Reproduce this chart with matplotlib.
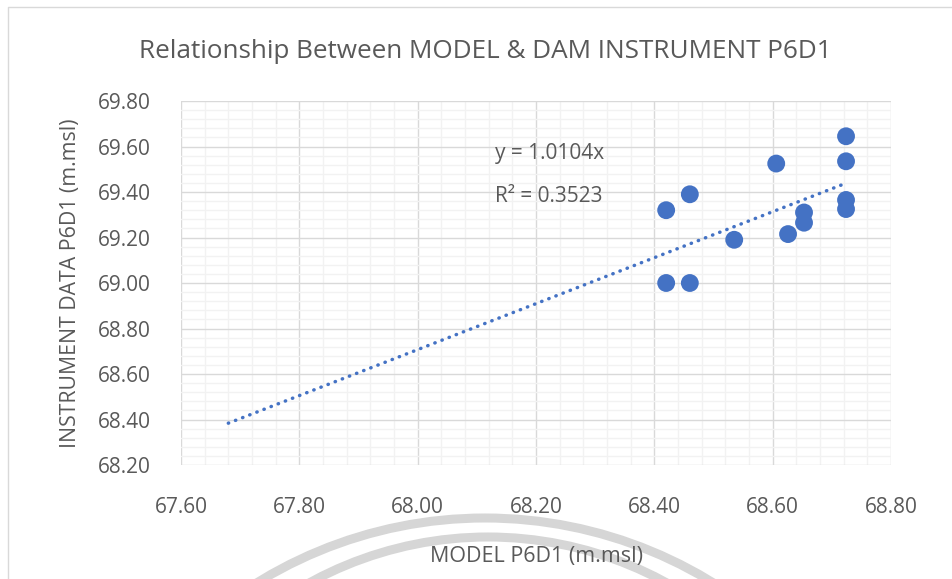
import numpy as np
import matplotlib
matplotlib.use("Agg")
import matplotlib.pyplot as plt
from matplotlib.patches import Arc
from matplotlib.ticker import MultipleLocator, FormatStrFormatter

# data
model_x = [68.42, 68.42, 68.46, 68.46, 68.535, 68.606, 68.626, 68.653, 68.653, 68.724, 68.724, 68.724, 68.724]
instrument_y = [69.32, 69.00, 69.39, 69.00, 69.19, 69.525, 69.215, 69.31, 69.265, 69.645, 69.535, 69.365, 69.325]
slope = 1.0104
r_squared = 0.3523
trend_start = 67.68

x_ticks = [67.60, 67.80, 68.00, 68.20, 68.40, 68.60, 68.80]
y_ticks = [68.20, 68.40, 68.60, 68.80, 69.00, 69.20, 69.40, 69.60, 69.80]

plt.rcParams['font.family'] = ['Open Sans', 'DejaVu Sans']
text_color = '#595959'
blue = '#4472C4'

W, H = 952, 579
fig = plt.figure(figsize=(W / 100, H / 100), dpi=100)

# background layer in pixel coords: chart border + watermark arcs
bg = fig.add_axes([0, 0, 1, 1], zorder=0)
bg.set_xlim(0, W)
bg.set_ylim(H, 0)
bg.axis('off')
bg.plot([8, 8, W + 5], [H + 5, 7, 7], color='#d9d9d9', lw=1.0)
for cx, cy, r in [(485, 952, 434), (488, 908, 371)]:
    bg.add_patch(Arc((cx, cy), 2 * r, 2 * r, theta1=180, theta2=360,
                     color='#d6d6d6', lw=6.5))

# main plot area
ax = fig.add_axes([181 / W, 114 / H, 710 / W, 364 / H], zorder=1)
ax.set_facecolor('none')
ax.set_xlim(x_ticks[0], x_ticks[-1])
ax.set_ylim(y_ticks[0], y_ticks[-1])
ax.set_xticks(x_ticks)
ax.set_yticks(y_ticks)
ax.xaxis.set_minor_locator(MultipleLocator(0.04))
ax.yaxis.set_minor_locator(MultipleLocator(0.04))
ax.xaxis.set_major_formatter(FormatStrFormatter('%.2f'))
ax.yaxis.set_major_formatter(FormatStrFormatter('%.2f'))
ax.grid(which='minor', color='#f2f2f2', lw=1.0, zorder=0)
ax.grid(which='major', color='#d9d9d9', lw=1.0, zorder=0)
ax.set_axisbelow(True)
for s in ax.spines.values():
    s.set_visible(False)
ax.tick_params(which='both', length=0)
ax.tick_params(axis='x', pad=23, labelsize=15, labelcolor=text_color)
ax.tick_params(axis='y', pad=22, labelsize=15, labelcolor=text_color)

# trendline through origin
tx = np.array([trend_start, max(model_x)])
ax.plot(tx, slope * tx, color=blue, lw=2.5, linestyle=(0, (0.1, 2.1)),
        dash_capstyle='round', zorder=2)

ax.scatter(model_x, instrument_y, s=165, color=blue, edgecolors='none', zorder=3)

ax.text(68.131, 69.571, 'y = 1.0104x', fontsize=15, color=text_color, va='center', ha='left')
ax.text(68.131, 69.382, 'R² = 0.3523', fontsize=15, color=text_color, va='center', ha='left')

ax.set_xlabel('MODEL P6D1 (m.msl)', fontsize=15.5, color=text_color, labelpad=20)
ax.set_ylabel('INSTRUMENT DATA P6D1 (m.msl)', fontsize=15.3, color=text_color, labelpad=12)

fig.text(485 / W, 1 - 52 / H, 'Relationship Between MODEL & DAM INSTRUMENT P6D1',
         fontsize=18.8, color=text_color, ha='center', va='center')

fig.savefig('out.png', dpi=100)
